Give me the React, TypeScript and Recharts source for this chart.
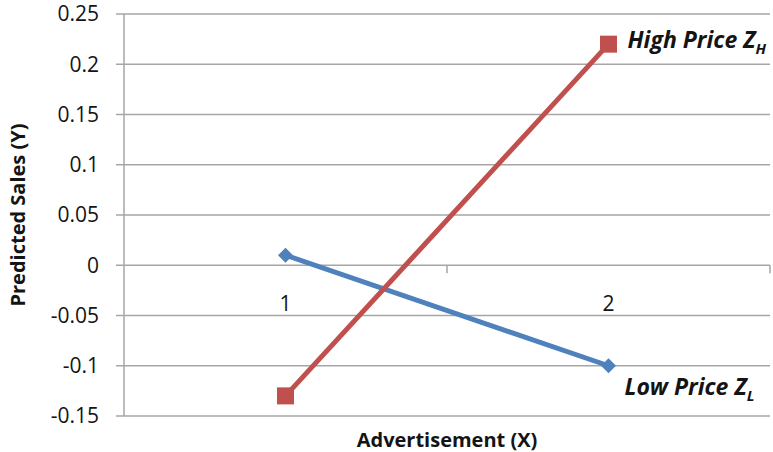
import React from "react";
import { LineChart, Line, XAxis, YAxis, CartesianGrid, ReferenceLine, Label } from "recharts";

const categories = [1, 2];
const lowPrice = [0.01, -0.1];
const highPrice = [-0.13, 0.22];
const yTicks = [-0.15, -0.1, -0.05, 0, 0.05, 0.1, 0.15, 0.2, 0.25];
const categoryBounds = [1.5, 2.5];
const seriesNames = { high: "High Price Z", highSub: "H", low: "Low Price Z", lowSub: "L" };

const data = categories.map((c, i) => ({ x: c, low: lowPrice[i], high: highPrice[i] }));

const FONT = "'Open Sans', sans-serif";
const GRID = "#a6a6a6";
const BLUE = "#4f81bd";
const RED = "#c0504d";
const TEXT = "#141414";

const Diamond = (props: any) => {
  const { cx, cy } = props;
  if (cx == null || cy == null) return null;
  const r = 7.5;
  return <polygon points={`${cx},${cy - r} ${cx + r},${cy} ${cx},${cy + r} ${cx - r},${cy}`} fill={BLUE} />;
};

const Square = (props: any) => {
  const { cx, cy } = props;
  if (cx == null || cy == null) return null;
  const s = 17;
  return <rect x={cx - s / 2} y={cy - s / 2} width={s} height={s} fill={RED} />;
};

const HighLabel = (props: any) => {
  const { x, y, index } = props;
  if (index !== categories.length - 1) return null;
  return (
    <text x={x + 19} y={y + 4} fontFamily={FONT} fontWeight="bold" fontStyle="italic" fontSize={23} fill={TEXT}>
      {seriesNames.high}
      <tspan fontSize={15} dy={6}>{seriesNames.highSub}</tspan>
    </text>
  );
};

const LowLabel = (props: any) => {
  const { x, y, index } = props;
  if (index !== categories.length - 1) return null;
  return (
    <text x={x + 16} y={y + 29} fontFamily={FONT} fontWeight="bold" fontStyle="italic" fontSize={23} fill={TEXT}>
      {seriesNames.low}
      <tspan fontSize={15} dy={6}>{seriesNames.lowSub}</tspan>
    </text>
  );
};

const YLabel = (props: any) => {
  const { viewBox } = props;
  const cx = 17;
  const cy = viewBox.y + viewBox.height / 2;
  return (
    <text x={cx} y={cy} transform={`rotate(-90 ${cx} ${cy})`} textAnchor="middle" dominantBaseline="central"
      fontFamily={FONT} fontWeight="bold" fontSize={20} fill={TEXT}>
      Predicted Sales (Y)
    </text>
  );
};

export default function App() {
  return (
    <div style={{ position: "absolute", left: 0, top: 0 }}>
      <LineChart width={773} height={452} data={data} margin={{ top: 14, right: 3, bottom: 0, left: 0 }}>
        <CartesianGrid vertical={false} stroke={GRID} strokeWidth={1.5} />
        <XAxis
          dataKey="x"
          type="number"
          domain={[0.5, 2.5]}
          ticks={categories}
          axisLine={false}
          tickLine={false}
          height={36}
          tick={{ fontFamily: FONT, fontSize: 21, fill: TEXT, dy: -128 }}
        >
          <Label value="Advertisement (X)" position="insideBottom" offset={5}
            style={{ fontFamily: FONT, fontWeight: "bold", fontSize: 20, fill: TEXT }} />
        </XAxis>
        <YAxis
          type="number"
          domain={[-0.15, 0.25]}
          ticks={yTicks}
          width={124}
          axisLine={{ stroke: GRID, strokeWidth: 1.5 }}
          tickLine={{ stroke: GRID, strokeWidth: 1.5 }}
          tickSize={8}
          tickMargin={17}
          tickFormatter={(v: number) => String(v)}
          tick={{ fontFamily: FONT, fontSize: 21, fill: TEXT }}
          interval={0}
        >
          <Label content={<YLabel />} />
        </YAxis>
        {categoryBounds.map((b) => (
          <ReferenceLine key={b} segment={[{ x: b, y: 0 }, { x: b, y: -0.008 }]} stroke={GRID} strokeWidth={1.5} ifOverflow="visible" />
        ))}
        <Line dataKey="low" stroke={BLUE} strokeWidth={5} dot={<Diamond />} activeDot={false} isAnimationActive={false} label={<LowLabel />} />
        <Line dataKey="high" stroke={RED} strokeWidth={5} dot={<Square />} activeDot={false} isAnimationActive={false} label={<HighLabel />} />
      </LineChart>
    </div>
  );
}
